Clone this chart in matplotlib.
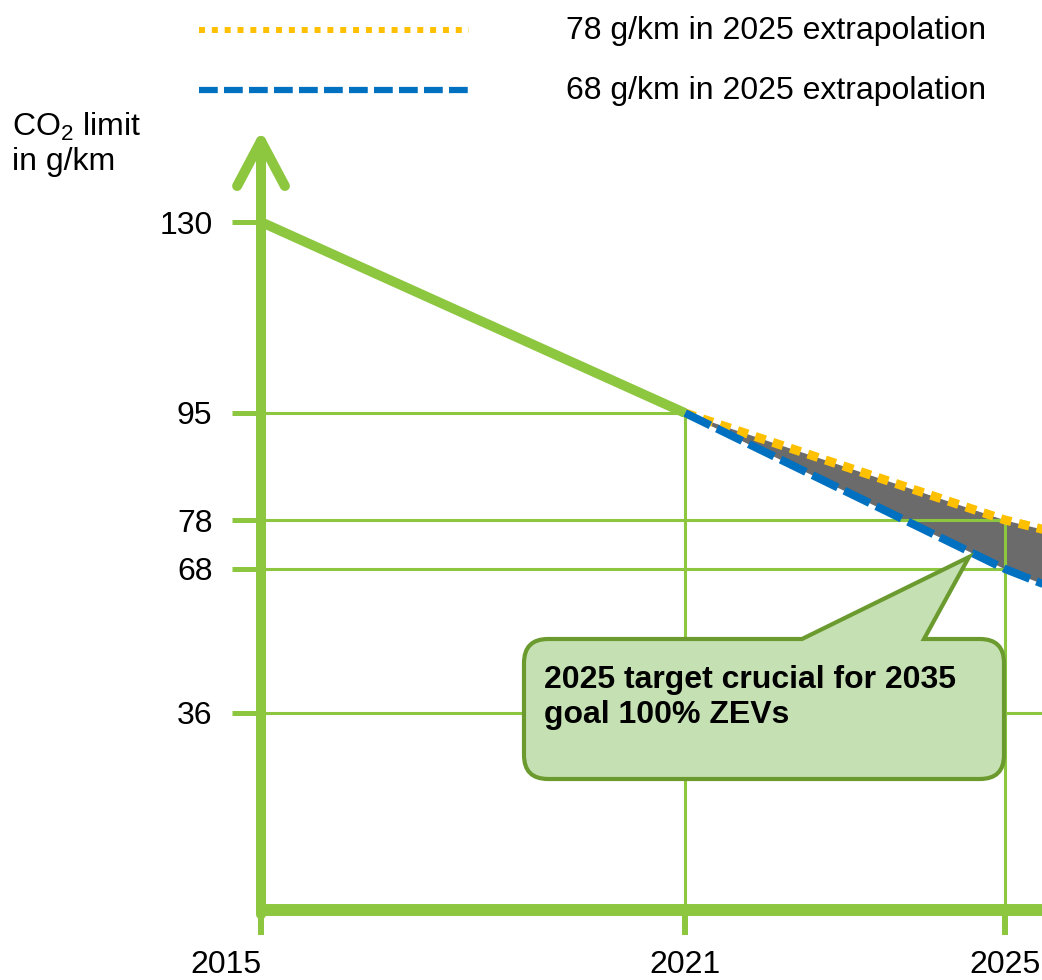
import numpy as np
import matplotlib
matplotlib.use("Agg")
import matplotlib.pyplot as plt
from matplotlib.lines import Line2D
from matplotlib.path import Path
from matplotlib.patches import PathPatch

plt.rcParams['font.family'] = ['Liberation Sans', 'DejaVu Sans']
plt.rcParams['mathtext.fontset'] = 'custom'
plt.rcParams['mathtext.rm'] = 'Liberation Sans'

# data
limit_years = [2015, 2021]
limit_values = [130, 95]
extra_years = [2021, 2025, 2026]
high_path = [95, 78, 74]    # 78 g/km in 2025
low_path = [95, 68, 61]     # 68 g/km in 2025
target_values = [95, 78, 68, 36]
target_years = [2021, 2025, 2025, 2030]
year_ticks = [2015, 2021, 2025]
value_ticks = [130, 95, 78, 68, 36]
legend_labels = ['78 g/km in 2025 extrapolation', '68 g/km in 2025 extrapolation']
callout = '2025 target crucial for 2035\ngoal 100% ZEVs'

W, H = 1042, 980
GREEN = '#8DC63F'
DARKGREEN = '#6B9B2F'
YELLOW = '#FFC000'
BLUE = '#0070C0'
GREY = '#6B6B6B'
FS = 23


def piecewise(src, dst):
    src = np.asarray(src, float)
    dst = np.asarray(dst, float)
    lo = (dst[1] - dst[0]) / (src[1] - src[0])
    hi = (dst[-1] - dst[-2]) / (src[-1] - src[-2])

    def f(v):
        v = np.asarray(v, float)
        out = np.interp(v, src, dst)
        out = np.where(v < src[0], dst[0] + (v - src[0]) * lo, out)
        out = np.where(v > src[-1], dst[-1] + (v - src[-1]) * hi, out)
        return out
    return f


# schematic (non-linear) axes, as in the original drawing
x_src, x_px = [2015, 2021, 2025], [261, 685, 1005]
y_src, y_px = [0, 36, 68, 78, 95, 130], [70, 267, 411, 460, 567, 758]
xf, xi = piecewise(x_src, x_px), piecewise(x_px, x_src)
yf, yi = piecewise(y_src, y_px), piecewise(y_px, y_src)

fig = plt.figure(figsize=(W / 100, H / 100), dpi=100)
ax = fig.add_axes([0, 0, 1, 1])
ax.set_xscale('function', functions=(xf, xi))
ax.set_yscale('function', functions=(yf, yi))
ax.set_xlim(float(xi(0)), float(xi(W)))
ax.set_ylim(float(yi(0)), float(yi(H)))

for s in ax.spines.values():
    s.set_visible(False)
ax.spines['left'].set_position(('data', 2015))
ax.spines['bottom'].set_position(('data', 0))

ax.set_xticks(year_ticks, [str(y) for y in year_ticks])
ax.set_yticks(value_ticks, [str(v) for v in value_ticks])
ax.tick_params(axis='x', direction='out', length=18, width=4.3, color=GREEN,
               pad=11, labelsize=FS)
ax.tick_params(axis='y', direction='out', length=21, width=3.6, color=GREEN,
               pad=14, labelsize=FS)
ax.get_xticklabels()[0].set_ha('right')

# guide lines to the targets
ax.hlines(target_values, 2015, target_years, color=GREEN, lw=2.2, zorder=3.5)
for yr in sorted(set(target_years)):
    top = max(v for v, t in zip(target_values, target_years) if t == yr)
    ax.vlines(yr, 0, top, color=GREEN, lw=2.2, zorder=3.5)

# extrapolation corridor
ax.fill_between(extra_years, low_path, high_path, color=GREY, lw=0, zorder=3)
ax.plot(extra_years, high_path, color=YELLOW, lw=6.5, dashes=(1.2, 0.85),
        dash_capstyle='butt', zorder=4)
ax.plot(extra_years, low_path, color=BLUE, lw=5.8, dashes=(3.5, 0.9),
        dash_capstyle='butt', zorder=4)

# actual limits
ax.plot(limit_years, limit_values, color=GREEN, lw=7, solid_capstyle='butt', zorder=5)

# axes
ax.plot([2015, max(target_years)], [0, 0], color=GREEN, lw=8.6,
        solid_capstyle='butt', zorder=5)
ax.annotate('', xy=(2015, 146.8), xytext=(2015, -0.8),
            arrowprops=dict(arrowstyle='->,head_length=1.62,head_width=0.86',
                            lw=7.2, color=GREEN, shrinkA=0, shrinkB=0,
                            capstyle='round', mutation_scale=20),
            zorder=5)

# legend
h1 = Line2D([], [], color=YELLOW, lw=4.3, dashes=(1.0, 1.15))
h2 = Line2D([], [], color=BLUE, lw=4.5, dashes=(3.0, 1.0))
ax.legend([h1, h2], legend_labels, loc='upper left',
          bbox_to_anchor=(199 / W, 1 - 16 / H), bbox_transform=fig.transFigure,
          frameon=False, fontsize=FS, handlelength=8.45, handleheight=0.25,
          handletextpad=3.05, borderpad=0, borderaxespad=0, labelspacing=0.95)

fig.text(12 / W, 1 - 111 / H, 'CO$_2$ limit\nin g/km', ha='left', va='top',
         fontsize=FS, linespacing=1.15)


# speech bubble
def px(x, y):
    return (x / W, 1 - y / H)


x0, x1, y0, y1, r = 524, 1004, 639, 779, 24
bx1, bx2, tip = 802, 924, (969, 557)
verts = [(x0 + r, y0), (bx1, y0), tip, (bx2, y0), (x1 - r, y0),
         (x1, y0), (x1, y0 + r), (x1, y1 - r), (x1, y1), (x1 - r, y1),
         (x0 + r, y1), (x0, y1), (x0, y1 - r), (x0, y0 + r), (x0, y0), (x0 + r, y0),
         (x0 + r, y0)]
codes = [Path.MOVETO, Path.LINETO, Path.LINETO, Path.LINETO, Path.LINETO,
         Path.CURVE3, Path.CURVE3, Path.LINETO, Path.CURVE3, Path.CURVE3,
         Path.LINETO, Path.CURVE3, Path.CURVE3, Path.LINETO, Path.CURVE3, Path.CURVE3,
         Path.CLOSEPOLY]
bubble = PathPatch(Path([px(*v) for v in verts], codes), transform=fig.transFigure,
                   facecolor='#C5E0B3', edgecolor=DARKGREEN, lw=3, zorder=6)
ax.add_patch(bubble)
ax.text(544 / W, 1 - 665 / H, callout, transform=fig.transFigure, ha='left', va='top',
        fontsize=FS, fontweight='bold', linespacing=1.2, zorder=7)

fig.savefig('out.png', dpi=100)
